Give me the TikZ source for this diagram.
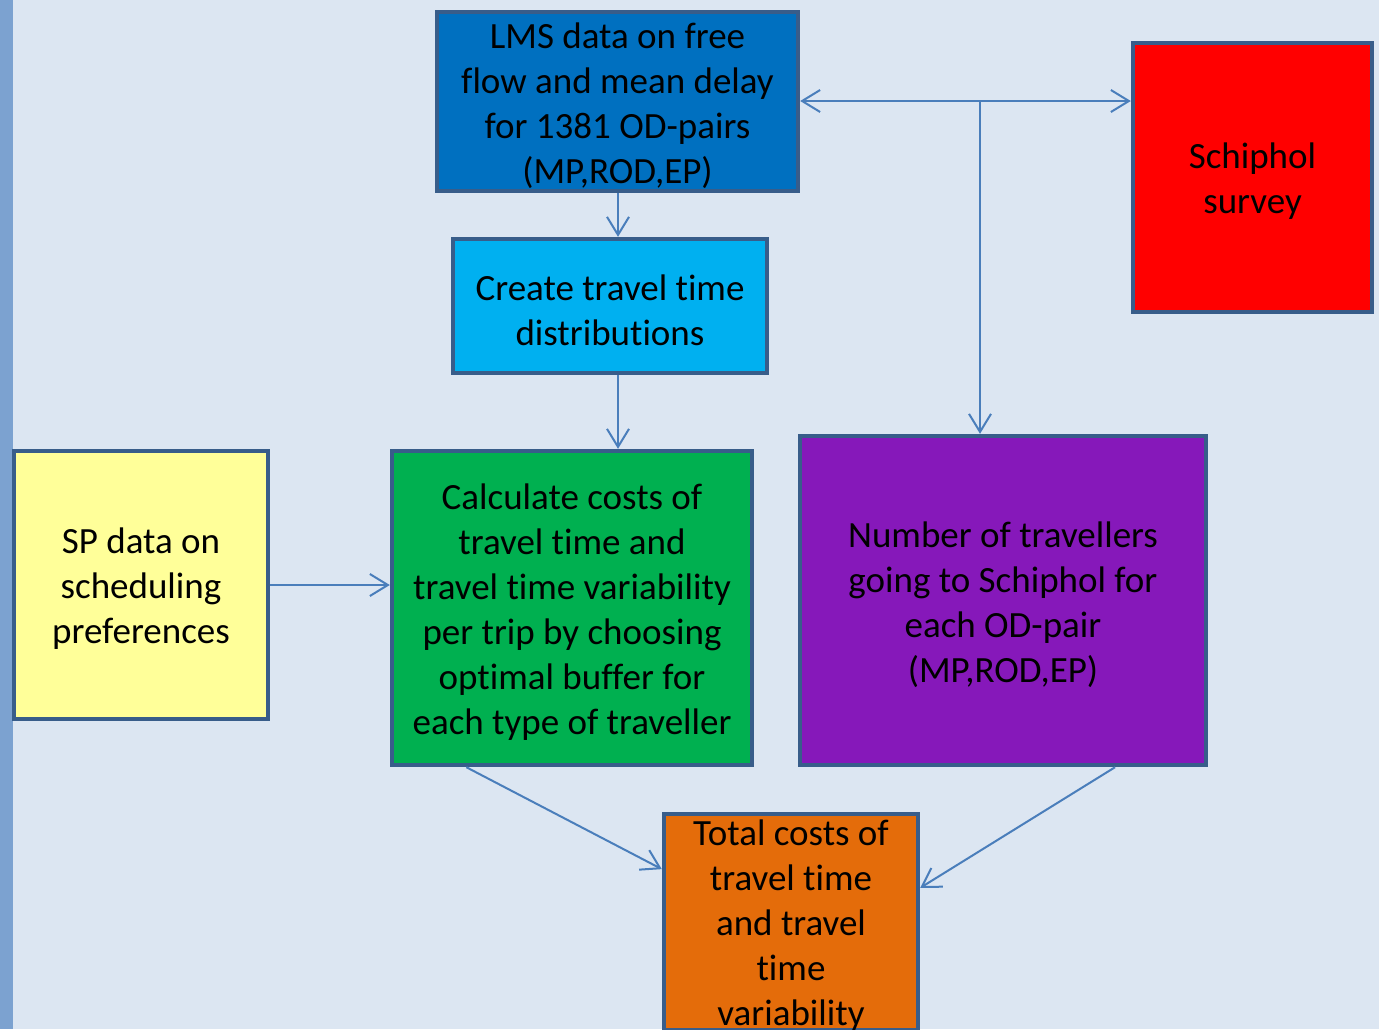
\documentclass[tikz,border=0pt]{standalone}
\usepackage{fontspec}
\setmainfont[Ligatures=NoCommon]{Carlito}
\usetikzlibrary{arrows.meta,calc}
\definecolor{bgc}{RGB}{220,230,242}
\definecolor{stripc}{RGB}{124,162,208}
\definecolor{bordc}{RGB}{56,93,138}
\definecolor{arrc}{RGB}{74,126,187}
\definecolor{lmsc}{RGB}{0,112,192}
\definecolor{schc}{RGB}{255,0,0}
\definecolor{crec}{RGB}{0,176,240}
\definecolor{spc}{RGB}{255,255,153}
\definecolor{calcc}{RGB}{0,176,80}
\definecolor{numc}{RGB}{134,24,186}
\definecolor{totc}{RGB}{228,108,10}
\tikzset{
  box/.style={draw=bordc, line width=2.2pt, rectangle, inner sep=0pt},
  lbl/.style={inner sep=0pt, align=center, yshift=-2pt,
    font=\fontsize{18.5}{22.5}\selectfont, text=black},
  arr/.style={draw=arrc, line width=1pt, -{Straight Barb[length=9pt,width=11pt,line width=1pt]}},
  dblarr/.style={draw=arrc, line width=1pt, {Straight Barb[length=9pt,width=11pt,line width=1pt]}-{Straight Barb[length=9pt,width=11pt,line width=1pt]}}
}
\begin{document}
\begin{tikzpicture}[x=0.5pt,y=-0.5pt]
\useasboundingbox (0,0) rectangle (1379,1029);
\clip (0,0) rectangle (1379,1029);
\fill[bgc] (0,0) rectangle (1379,1029);
\fill[stripc] (0,0) rectangle (13,1029);

\node[box, fill=lmsc, minimum width=180.5pt, minimum height=89.5pt,
  label={[lbl]center:{LMS data on free\\flow and mean delay\\for 1381 OD-pairs\\(MP,ROD,EP)}}] (lms) at (617.5,101.5) {};
\node[box, fill=schc, minimum width=119.5pt, minimum height=134.5pt,
  label={[lbl]center:{Schiphol\\survey}}] (sch) at (1252.5,177.5) {};
\node[box, fill=crec, minimum width=157pt, minimum height=67pt,
  label={[lbl]center:{Create travel time\\distributions}}] (cre) at (610,306) {};
\node[box, fill=spc, minimum width=127pt, minimum height=134pt,
  label={[lbl]center:{SP data on\\scheduling\\preferences}}] (sp) at (141,585) {};
\node[box, fill=calcc, minimum width=180pt, minimum height=157pt,
  label={[lbl]center:{Calculate costs of\\travel time and\\travel time variability\\per trip by choosing\\optimal buffer for\\each type of traveller}}] (calc) at (572,608) {};
\node[box, fill=numc, minimum width=203pt, minimum height=164.5pt,
  label={[lbl]center:{Number of travellers\\going to Schiphol for\\each OD-pair\\(MP,ROD,EP)}}] (num) at (1003,600.5) {};
\node[box, fill=totc, minimum width=127pt, minimum height=108pt,
  label={[lbl]center:{Total costs of\\travel time\\and travel\\time\\variability}}] (tot) at (791,922) {};

\coordinate (j) at (980,101);
\draw[arr] (618,0 |- lms.south) coordinate (a1) -- (a1 |- cre.north);
\draw[arr] (a1 |- cre.south) -- (a1 |- calc.north);
\draw[dblarr] (lms.east |- j) -- (sch.west |- j);
\draw[arr] (j) -- (j |- num.north);
\draw[arr] (sp.east) -- (calc.west |- sp.east);
\draw[arr] ($(calc.south west)!0.21!(calc.south east)$) -- ($(tot.north west)!0.26!(tot.south west)$);
\draw[arr] ($(num.south west)!0.773!(num.south east)$) -- ($(tot.north east)!0.345!(tot.south east)$);
\end{tikzpicture}
\end{document}
